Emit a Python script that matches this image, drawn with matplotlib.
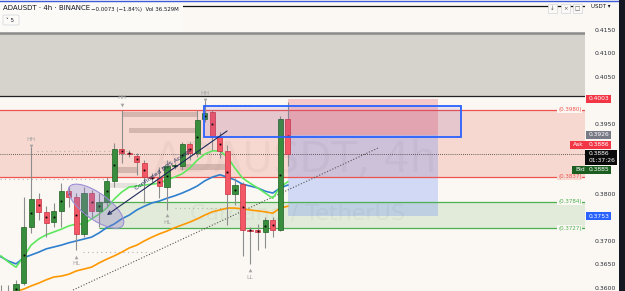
import matplotlib
matplotlib.use("Agg")
import matplotlib.pyplot as plt
import matplotlib.patches as mpatches
import matplotlib.transforms as mtransforms

# ---------------- data ----------------
candle_idx = list(range(-2, 37))
opens  = [0.3590, 0.3580, 0.3585, 0.3610, 0.3730, 0.3789, 0.3762, 0.3740, 0.3764, 0.3806,
          0.3794, 0.3715, 0.3802, 0.3764, 0.3783, 0.3828, 0.3896, 0.3887, 0.3881, 0.3866,
          0.3836, 0.3834, 0.3815, 0.3860, 0.3860, 0.3907, 0.3887, 0.3960, 0.3975, 0.3922,
          0.3892, 0.3800, 0.3821, 0.3723, 0.3723, 0.3719, 0.3745, 0.3723, 0.3960]
highs  = [0.3605, 0.3606, 0.3617, 0.3794, 0.3900, 0.3802, 0.3774, 0.3781, 0.3824, 0.3815,
          0.3802, 0.3815, 0.3809, 0.3802, 0.3836, 0.3909, 0.3979, 0.3894, 0.3887, 0.3873,
          0.3845, 0.3858, 0.3873, 0.3866, 0.3911, 0.3911, 0.3979, 0.4000, 0.3979, 0.3932,
          0.3905, 0.3834, 0.3826, 0.3730, 0.3736, 0.3751, 0.3751, 0.3966, 0.3996]
lows   = [0.3565, 0.3570, 0.3575, 0.3606, 0.3717, 0.3745, 0.3708, 0.3730, 0.3730, 0.3772,
          0.3681, 0.3708, 0.3751, 0.3730, 0.3772, 0.3815, 0.3866, 0.3879, 0.3841, 0.3781,
          0.3826, 0.3792, 0.3766, 0.3853, 0.3851, 0.3873, 0.3879, 0.3954, 0.3894, 0.3877,
          0.3734, 0.3777, 0.3668, 0.3651, 0.3681, 0.3685, 0.3708, 0.3721, 0.3860]
closes = [0.3578, 0.3590, 0.3608, 0.3730, 0.3789, 0.3762, 0.3738, 0.3764, 0.3806, 0.3794,
          0.3715, 0.3802, 0.3764, 0.3783, 0.3828, 0.3896, 0.3887, 0.3886, 0.3868, 0.3836,
          0.3834, 0.3817, 0.3860, 0.3861, 0.3907, 0.3887, 0.3958, 0.3973, 0.3922, 0.3892,
          0.3800, 0.3819, 0.3723, 0.3722, 0.3719, 0.3745, 0.3723, 0.3959, 0.3886]

ema_fast = [0.3668, 0.3655, 0.3644, 0.3666, 0.3691, 0.3704, 0.3713, 0.3719, 0.3725, 0.3732,
            0.3736, 0.3736, 0.3747, 0.3757, 0.3770, 0.3789, 0.3804, 0.3815, 0.3817, 0.3819,
            0.3821, 0.3823, 0.3830, 0.3836, 0.3843, 0.3855, 0.3872, 0.3885, 0.3892, 0.3892,
            0.3879, 0.3855, 0.3834, 0.3823, 0.3813, 0.3802, 0.3791, 0.3815, 0.3826]
ema_mid  = [0.3666, 0.3657, 0.3651, 0.3664, 0.3670, 0.3676, 0.3683, 0.3687, 0.3691, 0.3696,
            0.3700, 0.3704, 0.3708, 0.3717, 0.3728, 0.3736, 0.3747, 0.3755, 0.3766, 0.3774,
            0.3781, 0.3785, 0.3791, 0.3796, 0.3802, 0.3809, 0.3817, 0.3828, 0.3836, 0.3841,
            0.3836, 0.3830, 0.3821, 0.3817, 0.3813, 0.3806, 0.3802, 0.3813, 0.3819]
ema_slow = [0.3583, 0.3587, 0.3593, 0.3597, 0.3604, 0.3610, 0.3617, 0.3623, 0.3625, 0.3629,
            0.3636, 0.3640, 0.3644, 0.3653, 0.3661, 0.3668, 0.3676, 0.3685, 0.3691, 0.3700,
            0.3708, 0.3715, 0.3721, 0.3728, 0.3734, 0.3740, 0.3747, 0.3755, 0.3762, 0.3766,
            0.3770, 0.3770, 0.3768, 0.3766, 0.3764, 0.3762, 0.3759, 0.3770, 0.3774]

axis_ticks = [0.3600, 0.3650, 0.3700, 0.3800, 0.3950, 0.4050, 0.4100, 0.4150]

supply_zone = (0.3837, 0.3980)
demand_zone = (0.3727, 0.3784)
demand_start = 11
premium_zone = (0.40079, 0.41433)
upper_line = 0.4200
last_price = 0.3886
ask_price, bid_price = 0.3886, 0.3885
entry, stop, target = 0.3926, 0.4003, 0.3753
pos_start, pos_end = 36, 55.9
box_k = (24.95, 59.0)
box_p = (0.39215, 0.39876)

liq_bars = [  # (k0, k1, p0, p1, color)
    (14.0, 24.0, 0.3964, 0.3975, '#b89a94'),
    (15.0, 24.0, 0.3930, 0.3941, '#b89a94'),
    (13.4, 16.0, 0.3845, 0.3858, '#b89a94'),
    (11.8, 16.0, 0.3813, 0.3823, '#d6d3cd'),
    (21.7, 27.7, 0.3851, 0.3864, '#b89a94'),
]
struct_lines = [  # (k0, k1, price)
    (2.8, 15.1, 0.3892), (-2.1, 12.4, 0.3832), (8.9, 17.8, 0.3676),
    (21.0, 27.7, 0.3770), (26.1, 31.0, 0.3990),
]
struct_labels = ["HH", "HL", "HH", "HL", "HH", "LL"]
struct_k      = [2, 8, 14, 20, 25, 31]
struct_price  = [0.3902, 0.3666, 0.3990, 0.3755, 0.4000, 0.3638]
struct_up     = [False, True, False, True, False, True]

trend_pts = ((7.55, 0.35953), (47.95, 0.38981))
arrow_from = (27.95, 0.39343)
arrow_to = (12.05, 0.37552)
ellipse_center = (10.6, 0.3774)

# ---------------- style ----------------
BG = '#fbf8f3'
GREEN_C = '#388e3c'; GREEN_E = '#1e5e22'
RED_C = '#f45866'; RED_E = '#c8313f'
W, H = 625, 291

fig = plt.figure(figsize=(W / 100, H / 100), dpi=100)
fig.patch.set_facecolor(BG)
ax = fig.add_axes([0, 0, 585 / W, 1])
ax.set_facecolor(BG)
ax.set_xlim(-2.119, 75.36)
ax.set_ylim(0.35932, 0.42136)
for s in ax.spines.values():
    s.set_visible(False)
ax.tick_params(axis='x', bottom=False, labelbottom=False)
ax.yaxis.tick_right()
ax.set_yticks(axis_ticks)
ax.set_yticklabels([f"{t:.4f}" for t in axis_ticks])
ax.tick_params(axis='y', right=False, labelsize=4.4, labelcolor='#2a2e39', pad=3.6)

xl = ax.get_xlim()
# zones
ax.add_patch(mpatches.Rectangle((xl[0], premium_zone[0]), xl[1] - xl[0],
             premium_zone[1] - premium_zone[0], facecolor='#d6d3cd', edgecolor='none', zorder=1))
ax.axhline(premium_zone[1], color='#8a8a8a', lw=1.8, zorder=3)
ax.axhline(premium_zone[0], color='#222222', lw=0.9, zorder=3)
ax.axhline(upper_line, color='#111111', lw=0.9, zorder=3)

ax.add_patch(mpatches.Rectangle((xl[0], supply_zone[0]), xl[1] - xl[0],
             supply_zone[1] - supply_zone[0], facecolor='#f7d8d0', edgecolor='none', zorder=1))
ax.axhline(supply_zone[0], color='#ef5350', lw=0.9, zorder=3)
ax.axhline(supply_zone[1], color='#ef5350', lw=0.9, zorder=3)

ax.add_patch(mpatches.Rectangle((demand_start, demand_zone[0]), xl[1] - demand_start,
             demand_zone[1] - demand_zone[0], facecolor='#e2ebd9', edgecolor='none', zorder=1))
ax.hlines([demand_zone[0], demand_zone[1]], demand_start, xl[1], color='#4caf50', lw=0.9, zorder=3)

# watermark
ax.text(0.505, 0.45, "ADAUSDT, 4h", transform=ax.transAxes, fontsize=30, color='black',
        alpha=0.035, ha='center', va='center', zorder=1.5)
ax.text(0.508, 0.268, "Cardano / TetherUS", transform=ax.transAxes, fontsize=16, color='black',
        alpha=0.035, ha='center', va='center', zorder=1.5)

# liquidity bars
for k0, k1, p0, p1, c in liq_bars:
    ax.add_patch(mpatches.Rectangle((k0, p0), k1 - k0, p1 - p0, facecolor=c, alpha=0.55,
                                    edgecolor='none', zorder=2))
for k0, k1, p in struct_lines:
    ax.hlines(p, k0, k1, color='#b5b2ad', lw=0.8, linestyles=(0, (1, 3)), zorder=2.2)

# position tool
ax.add_patch(mpatches.Rectangle((pos_start, entry), pos_end - pos_start, stop - entry,
             facecolor=(0.90, 0.25, 0.32, 0.25), edgecolor='none', zorder=2.5))
ax.add_patch(mpatches.Rectangle((pos_start, target), pos_end - pos_start, entry - target,
             facecolor=(0.16, 0.38, 1.0, 0.2), edgecolor='none', zorder=2.5))

# price line & trend line
ax.axhline(last_price, color='#333333', lw=0.6, linestyle=(0, (1, 1.5)), zorder=3)
ax.plot([trend_pts[0][0], trend_pts[1][0]], [trend_pts[0][1], trend_pts[1][1]],
        color='#555555', lw=0.8, linestyle=(0, (1, 1.6)), zorder=3)

# EMAs
ax.plot(candle_idx, ema_slow, color='#ff9800', lw=1.2, zorder=4)
ax.plot(candle_idx, ema_mid, color='#2f7fcf', lw=1.2, zorder=4)
ax.plot(candle_idx, ema_fast, color='#5ee85e', lw=1.2, zorder=4)

# candles
bw = 0.68
for k, o, h, l, c in zip(candle_idx, opens, highs, lows, closes):
    up = c >= o
    ax.vlines(k, l, h, color='#8d8d8d', lw=0.8, zorder=5)
    lo, hi = min(o, c), max(o, c)
    if hi - lo < 0.00008:
        ax.hlines((o + c) / 2, k - bw / 2, k + bw / 2, color='#333333', lw=0.9, zorder=5.5)
    else:
        ax.add_patch(mpatches.Rectangle((k - bw / 2, lo), bw, hi - lo,
                     facecolor=GREEN_C if up else RED_C, edgecolor=GREEN_E if up else RED_E,
                     lw=0.5, zorder=5.5))
    ax.plot(k, (o + c) / 2, marker='s', markersize=1.3, color='black', mew=0, zorder=6)

# ellipse (pixel-sized around data anchor)
ell = mpatches.Ellipse((0, 0), 66, 26, angle=-36,
                       transform=mtransforms.ScaledTranslation(ellipse_center[0], ellipse_center[1], ax.transData),
                       facecolor=(0.55, 0.48, 0.78, 0.32), edgecolor='#9b8fd4', lw=0.8, zorder=6)
ax.add_patch(ell)

# arrow and label
ax.annotate('', xy=arrow_to, xytext=arrow_from,
            arrowprops=dict(arrowstyle='->', color='#1f2a5c', lw=0.8, shrinkA=0, shrinkB=0,
                            mutation_scale=6), zorder=6.5)
ax.text(19.6, 0.38533, "Confirmed BOS Accept", rotation=35, fontsize=4.3, color='#1f2a5c',
        ha='center', va='center', rotation_mode='anchor', zorder=6.5)

# blue rectangle
ax.add_patch(mpatches.Rectangle((box_k[0], box_p[0]), box_k[1] - box_k[0], box_p[1] - box_p[0],
             facecolor=(0.45, 0.30, 0.75, 0.12), edgecolor='#2962ff', lw=1.3, zorder=6))

# structure labels
for lab, k, p, upm in zip(struct_labels, struct_k, struct_price, struct_up):
    ax.plot(k, p, marker='^' if upm else 'v', markersize=2.6, color='#a3a3a3', mew=0, zorder=7)
    off = -0.0015 if upm else 0.0015
    ax.text(k, p + off, lab, fontsize=4.3, color='#a3a3a3', ha='center', va='center', zorder=7)

# zone labels at right edge
for p, col in [(supply_zone[1], '#ef5350'), (supply_zone[0], '#ef5350'),
               (demand_zone[1], '#4caf50'), (demand_zone[0], '#4caf50')]:
    ax.text(0.974, p, f"({p:.4f})", transform=ax.get_yaxis_transform(), fontsize=4.0, color=col,
            ha='center', va='center', zorder=7,
            bbox=dict(boxstyle='square,pad=0.15', facecolor=BG if p != supply_zone[0] else '#f7d8d0',
                      edgecolor='none'))

# right-axis price boxes
bt = mtransforms.blended_transform_factory(fig.transFigure, ax.transData)
px = 1 / W
hgt = 0.00175

def pbox(x0, x1, p, fc, label, tc='white', prefix=None, pre_x=None):
    r = mpatches.Rectangle((x0 * px, p - hgt / 2), (x1 - x0) * px, hgt, transform=bt,
                           facecolor=fc, edgecolor='none', zorder=10, clip_on=False)
    fig.add_artist(r)
    fig.text(589 * px, p, label, transform=bt, fontsize=4.3, color=tc, va='center', ha='left', zorder=11)
    if prefix:
        fig.text(pre_x * px, p, prefix, transform=bt, fontsize=4.3, color=tc, va='center', ha='left', zorder=11)

pbox(586, 611, stop, '#f23645', f"{stop:.4f}")
pbox(586, 611, entry, '#787b86', f"{entry:.4f}")
pbox(570, 611, 0.39045, '#f23645', f"{ask_price:.4f}", prefix="Ask", pre_x=573)
pbox(572, 611, 0.38512, '#1b5e20', f"{bid_price:.4f}", prefix="Bid", pre_x=575)
pbox(586, 611, target, '#2962ff', f"{target:.4f}")
# countdown box
r = mpatches.Rectangle((585 * px, 0.38618), 32 * px, 0.0033, transform=bt,
                       facecolor='#0b0b0b', edgecolor='none', zorder=10)
fig.add_artist(r)
fig.text(589 * px, last_price, f"{last_price:.4f}", transform=bt, fontsize=4.3, color='white',
         va='center', zorder=11)
fig.text(589 * px, last_price - 0.00155, "01:37:26", transform=bt, fontsize=4.3, color='white',
         va='center', zorder=11)

# header
def fy(y):
    return 1 - y / H

fig.add_artist(mpatches.Rectangle((0, fy(32)), 183 * px, 32 / H, transform=fig.transFigure,
                                  facecolor='#fcfaf6', edgecolor='none', zorder=9))
fig.text(3 * px, fy(8.5), "ADAUSDT · 4h · BINANCE", fontsize=5.0, color='#131722', va='center', zorder=11)
fig.text(91 * px, fy(9), "\u22120.0073 (\u22121.84%)  Vol 36.529M", fontsize=3.9, color='#131722',
         va='center', zorder=11)
fig.add_artist(mpatches.FancyBboxPatch((3 * px, fy(25)), 16 * px, 10 / H, transform=fig.transFigure,
                                       boxstyle='round,pad=0,rounding_size=0.003',
                                       facecolor='#fcfaf6', edgecolor='#d1d4dc', lw=0.5, zorder=10))
fig.text(6 * px, fy(20), "\u02c5 5", fontsize=4.0, color='#131722', va='center', zorder=11)

for x0, g in [(548, "\u2193"), (561, "\u00d7"), (573, "\u25a1")]:
    fig.add_artist(mpatches.Rectangle((x0 * px, fy(13)), 9 * px, 9 / H, transform=fig.transFigure,
                                      facecolor='#fcfaf6', edgecolor='#d1d4dc', lw=0.5, zorder=10))
    fig.text((x0 + 4.5) * px, fy(8.5), g, fontsize=4.0, color='#555555', ha='center', va='center', zorder=11)
fig.text(591 * px, fy(7), "USDT \u25be", fontsize=4.0, color='#131722', va='center', zorder=11)

# frame bits
fig.add_artist(plt.Line2D([0, 1], [fy(0.5), fy(0.5)], transform=fig.transFigure, color='#3b5bdb',
                          lw=1.0, zorder=12))
fig.add_artist(mpatches.Rectangle((619 * px, 0), 6 * px, 1, transform=fig.transFigure,
                                  facecolor='#131722', edgecolor='none', zorder=12))

fig.savefig("out.png", dpi=100, facecolor=BG)
